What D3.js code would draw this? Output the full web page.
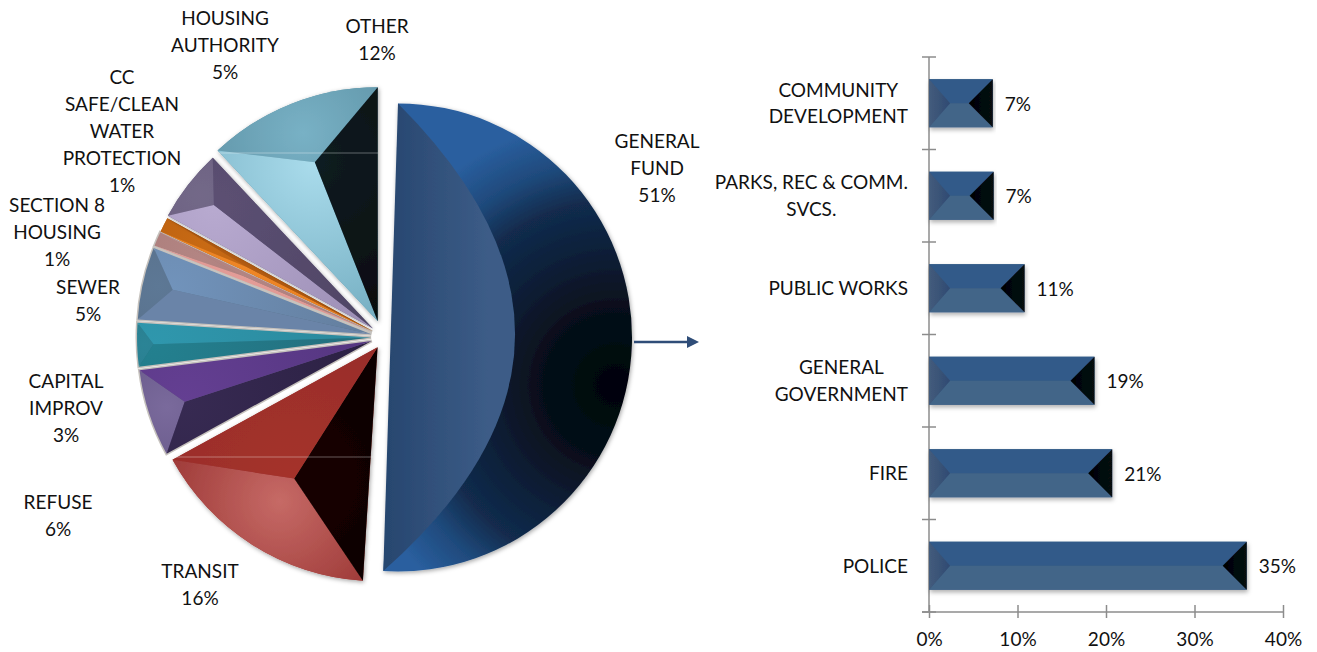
<!DOCTYPE html>
<html><head><meta charset="utf-8">
<script src="https://cdn.jsdelivr.net/npm/d3@7"></script>
<style>
html,body{margin:0;padding:0;background:#fff;overflow:hidden}
svg{display:block}
text{font-family:Lato,"Open Sans",sans-serif;font-size:19px;fill:#111}
</style></head><body>
<svg id="c" width="1317" height="652"></svg>
<script>
// ---- data ----
const pieNames = ["GENERAL FUND","TRANSIT","REFUSE","CAPITAL IMPROV","SEWER","SECTION 8 HOUSING","CC SAFE/CLEAN WATER PROTECTION","HOUSING AUTHORITY","OTHER"];
const pieShares = [51,16,6,3,5,1,1,5,12];
const barNames = ["COMMUNITY DEVELOPMENT","PARKS, REC & COMM. SVCS.","PUBLIC WORKS","GENERAL GOVERNMENT","FIRE","POLICE"];
const barValues = [7.2,7.3,10.8,18.7,20.7,35.9];
const barLabels = ["7%","7%","11%","19%","21%","35%"];
const axisTicks = [0,10,20,30,40];

// ---- slice styling ----
const explode = [14,12,13,13,13,13,13,14,17];
const vertexFrac = [.5,.665,.84,.93,.87,.6,.6,.86,.73];
const arcFill  = [["#020408","#2a5f9f"],["#c66a66","#9e3a38"],["#7a6a9c","#5d4f7e"],["#2b8496","#27707f"],["#5d7895","#566c86"],["#b38583","#a87b79"],["#c86a14","#b55d10"],["#736888","#665b7c"],["#78b1c5","#5f93a6"]];
const startFill= [["#3e5f8b","#2c4a72"],["#160605","#0a0302"],["#372a52","#2c2144"],["#23808f","#24707f"],["#6a84a8","#6a84a8"],["#e39c97","#dc9590"],["#ee8626","#e67c1c"],["#b8aad0","#9d8fb6"],["#aadcec","#6fa9bd"]];
const endFill  = [["#3e5f8b","#2c4a72"],["#a5322c","#962c28"],["#643f92","#553681"],["#2f97ad","#2b8a9e"],["#7193bb","#647f9f"],["#b38583","#a87b79"],["#b35c12","#a65410"],["#5c5073","#4f4565"],["#0e1c21","#050a0c"]];
const sepStroke = [null,null,"#c6c2bd","#c6c2bd","#c6c2bd","#c6c2bd",null,null,null];

// ---- layout ----
const svg = d3.select("#c");
const defs = svg.append("defs");
const f = defs.append("filter").attr("id","sh").attr("x","-10%").attr("y","-10%").attr("width","120%").attr("height","120%");
f.append("feDropShadow").attr("dx",1).attr("dy",1.5).attr("stdDeviation",2).attr("flood-color","#000").attr("flood-opacity",.35);
const f2 = defs.append("filter").attr("id","bs").attr("x","-5%").attr("y","-20%").attr("width","110%").attr("height","150%");
f2.append("feDropShadow").attr("dx",1).attr("dy",2.5).attr("stdDeviation",2).attr("flood-color","#000").attr("flood-opacity",.3);

const cx=384, cy=337, R=234;
const arcs = d3.pie().sort(null).value(d=>d)(pieShares);
const pt=(o,a,r)=>[o[0]+r*Math.sin(a),o[1]-r*Math.cos(a)];
let gid=0;
function radial(center,r,cols){
  const id="g"+(gid++);
  const g=defs.append("radialGradient").attr("id",id).attr("gradientUnits","userSpaceOnUse")
    .attr("cx",center[0]).attr("cy",center[1]).attr("r",r);
  g.append("stop").attr("offset",0).attr("stop-color",cols[0]);
  g.append("stop").attr("offset",1).attr("stop-color",cols[1]);
  return `url(#${id})`;
}
function poly(pts){const p=d3.path();pts.forEach((q,i)=>i?p.lineTo(q[0],q[1]):p.moveTo(q[0],q[1]));p.closePath();return p.toString();}
const pieG=svg.append("g");
arcs.forEach((a,i)=>{
  const mid=(a.startAngle+a.endAngle)/2;
  const o=pt([cx,cy],mid,explode[i]);
  const s=pt(o,a.startAngle,R), e=pt(o,a.endAngle,R), v=pt(o,mid,R*vertexFrac[i]);
  const g=pieG.append("g").attr("filter", (i>=2&&i<=6)?null:"url(#sh)");
  const arcPath=d3.arc().innerRadius(0).outerRadius(R).startAngle(a.startAngle).endAngle(a.endAngle);
  if(i===0){
    // large slice: crescent bevel
    const id="blueArc";
    const gr=defs.append("radialGradient").attr("id",id).attr("gradientUnits","userSpaceOnUse")
      .attr("cx",217).attr("cy",48).attr("r",320);
    [[0,"#020408"],[.22,"#060d18"],[.42,"#0d1f38"],[.58,"#122c4e"],[.7,"#1f4a7c"],[.84,"#2a5f9f"],[1,"#2a5f9f"]].forEach(c=>gr.append("stop").attr("offset",c[0]).attr("stop-color",c[1]));
    g.append("path").attr("transform",`translate(${o})`).attr("d",arcPath()).attr("fill",`url(#${id})`);
    const mx=(s[0]+e[0])/2,my=(s[1]+e[1])/2;
    const ctrl=[2*v[0]-mx,2*v[1]-my];
    const p=d3.path();p.moveTo(o[0],o[1]-R);p.lineTo(e[0],e[1]);p.quadraticCurveTo(ctrl[0],ctrl[1],s[0],s[1]);p.closePath();
    const lg=defs.append("linearGradient").attr("id","blueIn").attr("gradientUnits","userSpaceOnUse")
      .attr("x1",o[0]-14).attr("x2",o[0]+90).attr("y1",0).attr("y2",0);
    lg.append("stop").attr("offset",0).attr("stop-color","#27466f");
    lg.append("stop").attr("offset",1).attr("stop-color","#3c5c87");
    g.append("path").attr("d",p.toString()).attr("fill","url(#blueIn)");
  } else {
    g.append("path").attr("transform",`translate(${o})`).attr("d",arcPath()).attr("fill",arcFill[i][1])
      .attr("stroke",sepStroke[i]||"none").attr("stroke-width",sepStroke[i]?3:0);
    const mc=pt(o,mid,R*(1+vertexFrac[i])/2);
    const af=d3.path();af.moveTo(v[0],v[1]);af.lineTo(s[0],s[1]);
    af.arc(o[0],o[1],R,a.startAngle-Math.PI/2,a.endAngle-Math.PI/2,false);af.closePath();
    g.append("path").attr("d",af.toString()).attr("fill",radial(i===1?pt(o,mid,R*.78):mc,R*.5,arcFill[i]));
    g.append("path").attr("d",poly([o,s,v])).attr("fill",radial(v,R*.8,startFill[i]));
    g.append("path").attr("d",poly([o,e,v])).attr("fill",radial(v,R*.8,endFill[i]));
  }
});
// faint scan lines from the source picture
[[219,378,153],[172,373,457]].forEach(l=>pieG.append("line").attr("x1",l[0]).attr("x2",l[1]).attr("y1",l[2]).attr("y2",l[2]).attr("stroke","#fff").attr("stroke-opacity",.35));

// pie labels
const pieLabelLines=[
 ["GENERAL","FUND","51%"],["TRANSIT","16%"],["REFUSE","6%"],["CAPITAL","IMPROV","3%"],["SEWER","5%"],
 ["SECTION 8","HOUSING","1%"],["CC","SAFE/CLEAN","WATER","PROTECTION","1%"],["HOUSING","AUTHORITY","5%"],["OTHER","12%"]];
const pieLabelPos=[[657,141],[200,571],[58,502],[66,381],[88,287],[57,205],[122,77],[225,18],[377,26]];
pieLabelLines.forEach((ls,i)=>ls.forEach((t,j)=>svg.append("text").attr("text-anchor","middle")
  .attr("x",pieLabelPos[i][0]).attr("y",pieLabelPos[i][1]+j*27).attr("dy","0.35em").text(t)));

// arrow
const ay=342;
svg.append("line").attr("x1",634).attr("x2",690).attr("y1",ay).attr("y2",ay).attr("stroke","#2f4d78").attr("stroke-width",2.5);
svg.append("path").attr("d",poly([[687,ay-6],[699,ay],[687,ay+6]])).attr("fill","#2f4d78");

// bar chart
const x=d3.scaleLinear().domain([0,40]).range([929,1283]);
const y=d3.scaleBand().domain(barNames).range([57,612]).paddingInner(0).paddingOuter(0);
const axisCol="#8c8c8c";
const ax=svg.append("g").attr("transform","translate(0,612)")
  .call(d3.axisBottom(x).tickValues(axisTicks).tickFormat(d=>d+"%").tickSize(6).tickPadding(15));
ax.select(".domain").attr("stroke",axisCol).attr("stroke-width",1.5).attr("d","M922,0H1283");
ax.selectAll("line").attr("stroke",axisCol).attr("stroke-width",1.5).attr("y1",-7).attr("y2",6);
ax.selectAll("text").style("font-family",'Lato,"Open Sans",sans-serif').style("font-size","19px").attr("fill","#111").attr("dy","0.71em");
svg.append("line").attr("x1",929).attr("x2",929).attr("y1",57).attr("y2",612).attr("stroke",axisCol).attr("stroke-width",1.5);
barNames.concat([null]).forEach((n,i)=>{
  const yy=n?y(n):y.range()[1];
  svg.append("line").attr("x1",922).attr("x2",936).attr("y1",yy).attr("y2",yy).attr("stroke",axisCol).attr("stroke-width",1.5);
});
const bh=48, lv=21, rv=24;
const lgL=defs.append("linearGradient").attr("id","barL");
lgL.append("stop").attr("offset",0).attr("stop-color","#445c7c");lgL.append("stop").attr("offset",1).attr("stop-color","#2f4a72");
const lgR=defs.append("linearGradient").attr("id","barR");
lgR.append("stop").attr("offset",0).attr("stop-color","#010203");lgR.append("stop").attr("offset",1).attr("stop-color","#070c12");
barNames.forEach((n,i)=>{
  const x0=x(0),x1=x(barValues[i]),yc=y(n)+y.bandwidth()/2,t=yc-bh/2,b=yc+bh/2;
  const g=svg.append("g").attr("filter","url(#bs)");
  g.append("rect").attr("x",x0).attr("y",t).attr("width",x1-x0).attr("height",bh).attr("fill","#35587f");
  g.append("path").attr("d",poly([[x0,t],[x1,t],[x1-rv,yc],[x0+lv,yc]])).attr("fill","#325a89");
  g.append("path").attr("d",poly([[x0,b],[x1,b],[x1-rv,yc],[x0+lv,yc]])).attr("fill","#436588");
  g.append("path").attr("d",poly([[x0,t],[x0+lv,yc],[x0,b]])).attr("fill","url(#barL)");
  g.append("path").attr("d",poly([[x1,t],[x1-rv,yc],[x1,b]])).attr("fill","url(#barR)");
  svg.append("text").attr("x",x1+12).attr("y",yc+1).attr("dy","0.35em").text(barLabels[i]);
});
// category labels, centred lines in a right-aligned block
const catLines=[["COMMUNITY","DEVELOPMENT"],["PARKS, REC & COMM.","SVCS."],["PUBLIC WORKS"],["GENERAL","GOVERNMENT"],["FIRE"],["POLICE"]];
barNames.forEach((n,i)=>{
  const yc=y(n)+y.bandwidth()/2, ls=catLines[i];
  const tx=ls.map((t,j)=>svg.append("text").attr("text-anchor","middle").attr("y",yc+(j-(ls.length-1)/2)*26.5+(ls.length>1?0:0.5)).attr("dy","0.35em").text(t));
  const w=d3.max(tx,s=>s.node().getComputedTextLength());
  tx.forEach(s=>s.attr("x",908-w/2));
});
</script>
</body></html>
